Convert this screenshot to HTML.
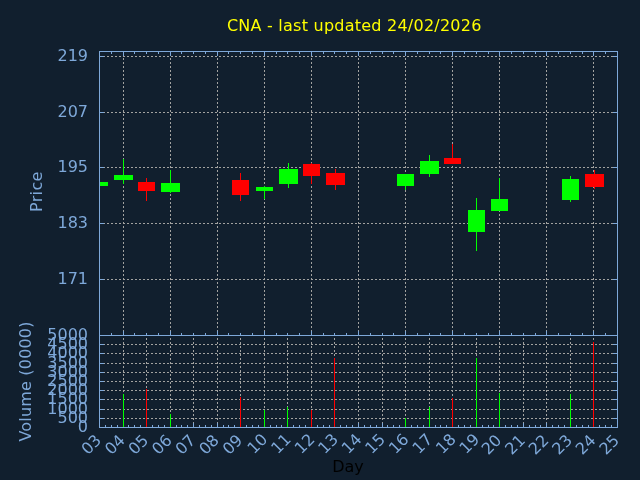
<!DOCTYPE html>
<html lang="en"><head><meta charset="utf-8"><title>CNA - last updated 24/02/2026</title>
<style>
html,body{margin:0;padding:0;background:#111f2e;overflow:hidden}
svg{display:block;will-change:transform}
text{font-family:"DejaVu Sans","Liberation Sans",sans-serif;font-size:16px}
.ax{fill:#7ea8d9}
</style></head><body>
<svg width="640" height="480" viewBox="0 0 640 480">
<rect x="0" y="0" width="640" height="480" fill="#111f2e"/>
<g shape-rendering="crispEdges">
<line x1="104" y1="56.5" x2="613" y2="56.5" stroke="#a2a2a0" stroke-width="1" stroke-dasharray="2 2" stroke-dashoffset="1"/>
<line x1="104" y1="112.5" x2="613" y2="112.5" stroke="#a2a2a0" stroke-width="1" stroke-dasharray="2 2" stroke-dashoffset="1"/>
<line x1="104" y1="167.5" x2="613" y2="167.5" stroke="#a2a2a0" stroke-width="1" stroke-dasharray="2 2" stroke-dashoffset="1"/>
<line x1="104" y1="223.5" x2="613" y2="223.5" stroke="#a2a2a0" stroke-width="1" stroke-dasharray="2 2" stroke-dashoffset="1"/>
<line x1="104" y1="279.5" x2="613" y2="279.5" stroke="#a2a2a0" stroke-width="1" stroke-dasharray="2 2" stroke-dashoffset="1"/>
<line x1="123.5" y1="52" x2="123.5" y2="335" stroke="#a2a2a0" stroke-width="1" stroke-dasharray="2 2" stroke-dashoffset="2"/>
<line x1="170.5" y1="52" x2="170.5" y2="335" stroke="#a2a2a0" stroke-width="1" stroke-dasharray="2 2" stroke-dashoffset="2"/>
<line x1="217.5" y1="52" x2="217.5" y2="335" stroke="#a2a2a0" stroke-width="1" stroke-dasharray="2 2" stroke-dashoffset="2"/>
<line x1="264.5" y1="52" x2="264.5" y2="335" stroke="#a2a2a0" stroke-width="1" stroke-dasharray="2 2" stroke-dashoffset="2"/>
<line x1="311.5" y1="52" x2="311.5" y2="335" stroke="#a2a2a0" stroke-width="1" stroke-dasharray="2 2" stroke-dashoffset="2"/>
<line x1="358.5" y1="52" x2="358.5" y2="335" stroke="#a2a2a0" stroke-width="1" stroke-dasharray="2 2" stroke-dashoffset="2"/>
<line x1="405.5" y1="52" x2="405.5" y2="335" stroke="#a2a2a0" stroke-width="1" stroke-dasharray="2 2" stroke-dashoffset="2"/>
<line x1="452.5" y1="52" x2="452.5" y2="335" stroke="#a2a2a0" stroke-width="1" stroke-dasharray="2 2" stroke-dashoffset="2"/>
<line x1="499.5" y1="52" x2="499.5" y2="335" stroke="#a2a2a0" stroke-width="1" stroke-dasharray="2 2" stroke-dashoffset="2"/>
<line x1="546.5" y1="52" x2="546.5" y2="335" stroke="#a2a2a0" stroke-width="1" stroke-dasharray="2 2" stroke-dashoffset="2"/>
<line x1="593.5" y1="52" x2="593.5" y2="335" stroke="#a2a2a0" stroke-width="1" stroke-dasharray="2 2" stroke-dashoffset="2"/>
<line x1="104" y1="418.5" x2="613" y2="418.5" stroke="#a2a2a0" stroke-width="1" stroke-dasharray="2 2" stroke-dashoffset="1"/>
<line x1="104" y1="409.5" x2="613" y2="409.5" stroke="#a2a2a0" stroke-width="1" stroke-dasharray="2 2" stroke-dashoffset="1"/>
<line x1="104" y1="399.5" x2="613" y2="399.5" stroke="#a2a2a0" stroke-width="1" stroke-dasharray="2 2" stroke-dashoffset="1"/>
<line x1="104" y1="390.5" x2="613" y2="390.5" stroke="#a2a2a0" stroke-width="1" stroke-dasharray="2 2" stroke-dashoffset="1"/>
<line x1="104" y1="381.5" x2="613" y2="381.5" stroke="#a2a2a0" stroke-width="1" stroke-dasharray="2 2" stroke-dashoffset="1"/>
<line x1="104" y1="372.5" x2="613" y2="372.5" stroke="#a2a2a0" stroke-width="1" stroke-dasharray="2 2" stroke-dashoffset="1"/>
<line x1="104" y1="363.5" x2="613" y2="363.5" stroke="#a2a2a0" stroke-width="1" stroke-dasharray="2 2" stroke-dashoffset="1"/>
<line x1="104" y1="353.5" x2="613" y2="353.5" stroke="#a2a2a0" stroke-width="1" stroke-dasharray="2 2" stroke-dashoffset="1"/>
<line x1="104" y1="344.5" x2="613" y2="344.5" stroke="#a2a2a0" stroke-width="1" stroke-dasharray="2 2" stroke-dashoffset="1"/>
<line x1="123.5" y1="336" x2="123.5" y2="427" stroke="#a2a2a0" stroke-width="1" stroke-dasharray="2 2" stroke-dashoffset="2"/>
<line x1="146.5" y1="336" x2="146.5" y2="427" stroke="#a2a2a0" stroke-width="1" stroke-dasharray="2 2" stroke-dashoffset="2"/>
<line x1="170.5" y1="336" x2="170.5" y2="427" stroke="#a2a2a0" stroke-width="1" stroke-dasharray="2 2" stroke-dashoffset="2"/>
<line x1="193.5" y1="336" x2="193.5" y2="427" stroke="#a2a2a0" stroke-width="1" stroke-dasharray="2 2" stroke-dashoffset="2"/>
<line x1="217.5" y1="336" x2="217.5" y2="427" stroke="#a2a2a0" stroke-width="1" stroke-dasharray="2 2" stroke-dashoffset="2"/>
<line x1="240.5" y1="336" x2="240.5" y2="427" stroke="#a2a2a0" stroke-width="1" stroke-dasharray="2 2" stroke-dashoffset="2"/>
<line x1="264.5" y1="336" x2="264.5" y2="427" stroke="#a2a2a0" stroke-width="1" stroke-dasharray="2 2" stroke-dashoffset="2"/>
<line x1="287.5" y1="336" x2="287.5" y2="427" stroke="#a2a2a0" stroke-width="1" stroke-dasharray="2 2" stroke-dashoffset="2"/>
<line x1="311.5" y1="336" x2="311.5" y2="427" stroke="#a2a2a0" stroke-width="1" stroke-dasharray="2 2" stroke-dashoffset="2"/>
<line x1="334.5" y1="336" x2="334.5" y2="427" stroke="#a2a2a0" stroke-width="1" stroke-dasharray="2 2" stroke-dashoffset="2"/>
<line x1="358.5" y1="336" x2="358.5" y2="427" stroke="#a2a2a0" stroke-width="1" stroke-dasharray="2 2" stroke-dashoffset="2"/>
<line x1="382.5" y1="336" x2="382.5" y2="427" stroke="#a2a2a0" stroke-width="1" stroke-dasharray="2 2" stroke-dashoffset="2"/>
<line x1="405.5" y1="336" x2="405.5" y2="427" stroke="#a2a2a0" stroke-width="1" stroke-dasharray="2 2" stroke-dashoffset="2"/>
<line x1="429.5" y1="336" x2="429.5" y2="427" stroke="#a2a2a0" stroke-width="1" stroke-dasharray="2 2" stroke-dashoffset="2"/>
<line x1="452.5" y1="336" x2="452.5" y2="427" stroke="#a2a2a0" stroke-width="1" stroke-dasharray="2 2" stroke-dashoffset="2"/>
<line x1="476.5" y1="336" x2="476.5" y2="427" stroke="#a2a2a0" stroke-width="1" stroke-dasharray="2 2" stroke-dashoffset="2"/>
<line x1="499.5" y1="336" x2="499.5" y2="427" stroke="#a2a2a0" stroke-width="1" stroke-dasharray="2 2" stroke-dashoffset="2"/>
<line x1="523.5" y1="336" x2="523.5" y2="427" stroke="#a2a2a0" stroke-width="1" stroke-dasharray="2 2" stroke-dashoffset="2"/>
<line x1="546.5" y1="336" x2="546.5" y2="427" stroke="#a2a2a0" stroke-width="1" stroke-dasharray="2 2" stroke-dashoffset="2"/>
<line x1="570.5" y1="336" x2="570.5" y2="427" stroke="#a2a2a0" stroke-width="1" stroke-dasharray="2 2" stroke-dashoffset="2"/>
<line x1="593.5" y1="336" x2="593.5" y2="427" stroke="#a2a2a0" stroke-width="1" stroke-dasharray="2 2" stroke-dashoffset="2"/>
<rect x="100" y="182" width="8" height="4" fill="#00ff00"/>
<line x1="123.5" y1="159" x2="123.5" y2="184" stroke="#00ff00" stroke-width="1"/>
<rect x="114" y="175" width="19" height="5" fill="#00ff00"/>
<line x1="146.5" y1="178" x2="146.5" y2="201" stroke="#ff0000" stroke-width="1"/>
<rect x="138" y="182" width="17" height="9" fill="#ff0000"/>
<line x1="170.5" y1="170" x2="170.5" y2="193" stroke="#00ff00" stroke-width="1"/>
<rect x="161" y="183" width="19" height="9" fill="#00ff00"/>
<line x1="240.5" y1="173" x2="240.5" y2="201" stroke="#ff0000" stroke-width="1"/>
<rect x="232" y="180" width="17" height="15" fill="#ff0000"/>
<line x1="264.5" y1="186" x2="264.5" y2="199" stroke="#00ff00" stroke-width="1"/>
<rect x="256" y="187" width="17" height="4" fill="#00ff00"/>
<line x1="288.5" y1="163" x2="288.5" y2="188" stroke="#00ff00" stroke-width="1"/>
<rect x="279" y="169" width="19" height="15" fill="#00ff00"/>
<line x1="311.5" y1="163" x2="311.5" y2="184" stroke="#ff0000" stroke-width="1"/>
<rect x="303" y="164" width="17" height="12" fill="#ff0000"/>
<line x1="335.5" y1="169" x2="335.5" y2="190" stroke="#ff0000" stroke-width="1"/>
<rect x="326" y="173" width="19" height="12" fill="#ff0000"/>
<line x1="405.5" y1="174" x2="405.5" y2="190" stroke="#00ff00" stroke-width="1"/>
<rect x="397" y="174" width="17" height="12" fill="#00ff00"/>
<line x1="429.5" y1="155" x2="429.5" y2="177" stroke="#00ff00" stroke-width="1"/>
<rect x="420" y="161" width="19" height="13" fill="#00ff00"/>
<line x1="452.5" y1="144" x2="452.5" y2="164" stroke="#ff0000" stroke-width="1"/>
<rect x="444" y="158" width="17" height="6" fill="#ff0000"/>
<line x1="476.5" y1="198" x2="476.5" y2="251" stroke="#00ff00" stroke-width="1"/>
<rect x="468" y="210" width="17" height="22" fill="#00ff00"/>
<line x1="499.5" y1="178" x2="499.5" y2="211" stroke="#00ff00" stroke-width="1"/>
<rect x="491" y="199" width="17" height="12" fill="#00ff00"/>
<line x1="570.5" y1="176" x2="570.5" y2="202" stroke="#00ff00" stroke-width="1"/>
<rect x="562" y="179" width="17" height="21" fill="#00ff00"/>
<line x1="594.5" y1="170" x2="594.5" y2="189" stroke="#ff0000" stroke-width="1"/>
<rect x="585" y="174" width="19" height="13" fill="#ff0000"/>
<line x1="100" y1="56.5" x2="104" y2="56.5" stroke="#7ea8d9" stroke-width="1"/>
<line x1="613" y1="56.5" x2="617" y2="56.5" stroke="#7ea8d9" stroke-width="1"/>
<line x1="100" y1="112.5" x2="104" y2="112.5" stroke="#7ea8d9" stroke-width="1"/>
<line x1="613" y1="112.5" x2="617" y2="112.5" stroke="#7ea8d9" stroke-width="1"/>
<line x1="100" y1="167.5" x2="104" y2="167.5" stroke="#7ea8d9" stroke-width="1"/>
<line x1="613" y1="167.5" x2="617" y2="167.5" stroke="#7ea8d9" stroke-width="1"/>
<line x1="100" y1="223.5" x2="104" y2="223.5" stroke="#7ea8d9" stroke-width="1"/>
<line x1="613" y1="223.5" x2="617" y2="223.5" stroke="#7ea8d9" stroke-width="1"/>
<line x1="100" y1="279.5" x2="104" y2="279.5" stroke="#7ea8d9" stroke-width="1"/>
<line x1="613" y1="279.5" x2="617" y2="279.5" stroke="#7ea8d9" stroke-width="1"/>
<line x1="100" y1="418.5" x2="104" y2="418.5" stroke="#7ea8d9" stroke-width="1"/>
<line x1="613" y1="418.5" x2="617" y2="418.5" stroke="#7ea8d9" stroke-width="1"/>
<line x1="100" y1="409.5" x2="104" y2="409.5" stroke="#7ea8d9" stroke-width="1"/>
<line x1="613" y1="409.5" x2="617" y2="409.5" stroke="#7ea8d9" stroke-width="1"/>
<line x1="100" y1="399.5" x2="104" y2="399.5" stroke="#7ea8d9" stroke-width="1"/>
<line x1="613" y1="399.5" x2="617" y2="399.5" stroke="#7ea8d9" stroke-width="1"/>
<line x1="100" y1="390.5" x2="104" y2="390.5" stroke="#7ea8d9" stroke-width="1"/>
<line x1="613" y1="390.5" x2="617" y2="390.5" stroke="#7ea8d9" stroke-width="1"/>
<line x1="100" y1="381.5" x2="104" y2="381.5" stroke="#7ea8d9" stroke-width="1"/>
<line x1="613" y1="381.5" x2="617" y2="381.5" stroke="#7ea8d9" stroke-width="1"/>
<line x1="100" y1="372.5" x2="104" y2="372.5" stroke="#7ea8d9" stroke-width="1"/>
<line x1="613" y1="372.5" x2="617" y2="372.5" stroke="#7ea8d9" stroke-width="1"/>
<line x1="100" y1="363.5" x2="104" y2="363.5" stroke="#7ea8d9" stroke-width="1"/>
<line x1="613" y1="363.5" x2="617" y2="363.5" stroke="#7ea8d9" stroke-width="1"/>
<line x1="100" y1="353.5" x2="104" y2="353.5" stroke="#7ea8d9" stroke-width="1"/>
<line x1="613" y1="353.5" x2="617" y2="353.5" stroke="#7ea8d9" stroke-width="1"/>
<line x1="100" y1="344.5" x2="104" y2="344.5" stroke="#7ea8d9" stroke-width="1"/>
<line x1="613" y1="344.5" x2="617" y2="344.5" stroke="#7ea8d9" stroke-width="1"/>
<line x1="111.5" y1="52" x2="111.5" y2="54" stroke="#7ea8d9" stroke-width="1"/>
<line x1="111.5" y1="333" x2="111.5" y2="335" stroke="#7ea8d9" stroke-width="1"/>
<line x1="123.5" y1="52" x2="123.5" y2="56" stroke="#7ea8d9" stroke-width="1"/>
<line x1="123.5" y1="331" x2="123.5" y2="335" stroke="#7ea8d9" stroke-width="1"/>
<line x1="134.5" y1="52" x2="134.5" y2="54" stroke="#7ea8d9" stroke-width="1"/>
<line x1="134.5" y1="333" x2="134.5" y2="335" stroke="#7ea8d9" stroke-width="1"/>
<line x1="146.5" y1="52" x2="146.5" y2="54" stroke="#7ea8d9" stroke-width="1"/>
<line x1="146.5" y1="333" x2="146.5" y2="335" stroke="#7ea8d9" stroke-width="1"/>
<line x1="158.5" y1="52" x2="158.5" y2="54" stroke="#7ea8d9" stroke-width="1"/>
<line x1="158.5" y1="333" x2="158.5" y2="335" stroke="#7ea8d9" stroke-width="1"/>
<line x1="170.5" y1="52" x2="170.5" y2="56" stroke="#7ea8d9" stroke-width="1"/>
<line x1="170.5" y1="331" x2="170.5" y2="335" stroke="#7ea8d9" stroke-width="1"/>
<line x1="181.5" y1="52" x2="181.5" y2="54" stroke="#7ea8d9" stroke-width="1"/>
<line x1="181.5" y1="333" x2="181.5" y2="335" stroke="#7ea8d9" stroke-width="1"/>
<line x1="193.5" y1="52" x2="193.5" y2="54" stroke="#7ea8d9" stroke-width="1"/>
<line x1="193.5" y1="333" x2="193.5" y2="335" stroke="#7ea8d9" stroke-width="1"/>
<line x1="205.5" y1="52" x2="205.5" y2="54" stroke="#7ea8d9" stroke-width="1"/>
<line x1="205.5" y1="333" x2="205.5" y2="335" stroke="#7ea8d9" stroke-width="1"/>
<line x1="217.5" y1="52" x2="217.5" y2="56" stroke="#7ea8d9" stroke-width="1"/>
<line x1="217.5" y1="331" x2="217.5" y2="335" stroke="#7ea8d9" stroke-width="1"/>
<line x1="228.5" y1="52" x2="228.5" y2="54" stroke="#7ea8d9" stroke-width="1"/>
<line x1="228.5" y1="333" x2="228.5" y2="335" stroke="#7ea8d9" stroke-width="1"/>
<line x1="240.5" y1="52" x2="240.5" y2="54" stroke="#7ea8d9" stroke-width="1"/>
<line x1="240.5" y1="333" x2="240.5" y2="335" stroke="#7ea8d9" stroke-width="1"/>
<line x1="252.5" y1="52" x2="252.5" y2="54" stroke="#7ea8d9" stroke-width="1"/>
<line x1="252.5" y1="333" x2="252.5" y2="335" stroke="#7ea8d9" stroke-width="1"/>
<line x1="264.5" y1="52" x2="264.5" y2="56" stroke="#7ea8d9" stroke-width="1"/>
<line x1="264.5" y1="331" x2="264.5" y2="335" stroke="#7ea8d9" stroke-width="1"/>
<line x1="276.5" y1="52" x2="276.5" y2="54" stroke="#7ea8d9" stroke-width="1"/>
<line x1="276.5" y1="333" x2="276.5" y2="335" stroke="#7ea8d9" stroke-width="1"/>
<line x1="287.5" y1="52" x2="287.5" y2="54" stroke="#7ea8d9" stroke-width="1"/>
<line x1="287.5" y1="333" x2="287.5" y2="335" stroke="#7ea8d9" stroke-width="1"/>
<line x1="299.5" y1="52" x2="299.5" y2="54" stroke="#7ea8d9" stroke-width="1"/>
<line x1="299.5" y1="333" x2="299.5" y2="335" stroke="#7ea8d9" stroke-width="1"/>
<line x1="311.5" y1="52" x2="311.5" y2="56" stroke="#7ea8d9" stroke-width="1"/>
<line x1="311.5" y1="331" x2="311.5" y2="335" stroke="#7ea8d9" stroke-width="1"/>
<line x1="323.5" y1="52" x2="323.5" y2="54" stroke="#7ea8d9" stroke-width="1"/>
<line x1="323.5" y1="333" x2="323.5" y2="335" stroke="#7ea8d9" stroke-width="1"/>
<line x1="334.5" y1="52" x2="334.5" y2="54" stroke="#7ea8d9" stroke-width="1"/>
<line x1="334.5" y1="333" x2="334.5" y2="335" stroke="#7ea8d9" stroke-width="1"/>
<line x1="346.5" y1="52" x2="346.5" y2="54" stroke="#7ea8d9" stroke-width="1"/>
<line x1="346.5" y1="333" x2="346.5" y2="335" stroke="#7ea8d9" stroke-width="1"/>
<line x1="358.5" y1="52" x2="358.5" y2="56" stroke="#7ea8d9" stroke-width="1"/>
<line x1="358.5" y1="331" x2="358.5" y2="335" stroke="#7ea8d9" stroke-width="1"/>
<line x1="370.5" y1="52" x2="370.5" y2="54" stroke="#7ea8d9" stroke-width="1"/>
<line x1="370.5" y1="333" x2="370.5" y2="335" stroke="#7ea8d9" stroke-width="1"/>
<line x1="382.5" y1="52" x2="382.5" y2="54" stroke="#7ea8d9" stroke-width="1"/>
<line x1="382.5" y1="333" x2="382.5" y2="335" stroke="#7ea8d9" stroke-width="1"/>
<line x1="393.5" y1="52" x2="393.5" y2="54" stroke="#7ea8d9" stroke-width="1"/>
<line x1="393.5" y1="333" x2="393.5" y2="335" stroke="#7ea8d9" stroke-width="1"/>
<line x1="405.5" y1="52" x2="405.5" y2="56" stroke="#7ea8d9" stroke-width="1"/>
<line x1="405.5" y1="331" x2="405.5" y2="335" stroke="#7ea8d9" stroke-width="1"/>
<line x1="417.5" y1="52" x2="417.5" y2="54" stroke="#7ea8d9" stroke-width="1"/>
<line x1="417.5" y1="333" x2="417.5" y2="335" stroke="#7ea8d9" stroke-width="1"/>
<line x1="429.5" y1="52" x2="429.5" y2="54" stroke="#7ea8d9" stroke-width="1"/>
<line x1="429.5" y1="333" x2="429.5" y2="335" stroke="#7ea8d9" stroke-width="1"/>
<line x1="440.5" y1="52" x2="440.5" y2="54" stroke="#7ea8d9" stroke-width="1"/>
<line x1="440.5" y1="333" x2="440.5" y2="335" stroke="#7ea8d9" stroke-width="1"/>
<line x1="452.5" y1="52" x2="452.5" y2="56" stroke="#7ea8d9" stroke-width="1"/>
<line x1="452.5" y1="331" x2="452.5" y2="335" stroke="#7ea8d9" stroke-width="1"/>
<line x1="464.5" y1="52" x2="464.5" y2="54" stroke="#7ea8d9" stroke-width="1"/>
<line x1="464.5" y1="333" x2="464.5" y2="335" stroke="#7ea8d9" stroke-width="1"/>
<line x1="476.5" y1="52" x2="476.5" y2="54" stroke="#7ea8d9" stroke-width="1"/>
<line x1="476.5" y1="333" x2="476.5" y2="335" stroke="#7ea8d9" stroke-width="1"/>
<line x1="488.5" y1="52" x2="488.5" y2="54" stroke="#7ea8d9" stroke-width="1"/>
<line x1="488.5" y1="333" x2="488.5" y2="335" stroke="#7ea8d9" stroke-width="1"/>
<line x1="499.5" y1="52" x2="499.5" y2="56" stroke="#7ea8d9" stroke-width="1"/>
<line x1="499.5" y1="331" x2="499.5" y2="335" stroke="#7ea8d9" stroke-width="1"/>
<line x1="511.5" y1="52" x2="511.5" y2="54" stroke="#7ea8d9" stroke-width="1"/>
<line x1="511.5" y1="333" x2="511.5" y2="335" stroke="#7ea8d9" stroke-width="1"/>
<line x1="523.5" y1="52" x2="523.5" y2="54" stroke="#7ea8d9" stroke-width="1"/>
<line x1="523.5" y1="333" x2="523.5" y2="335" stroke="#7ea8d9" stroke-width="1"/>
<line x1="535.5" y1="52" x2="535.5" y2="54" stroke="#7ea8d9" stroke-width="1"/>
<line x1="535.5" y1="333" x2="535.5" y2="335" stroke="#7ea8d9" stroke-width="1"/>
<line x1="546.5" y1="52" x2="546.5" y2="56" stroke="#7ea8d9" stroke-width="1"/>
<line x1="546.5" y1="331" x2="546.5" y2="335" stroke="#7ea8d9" stroke-width="1"/>
<line x1="558.5" y1="52" x2="558.5" y2="54" stroke="#7ea8d9" stroke-width="1"/>
<line x1="558.5" y1="333" x2="558.5" y2="335" stroke="#7ea8d9" stroke-width="1"/>
<line x1="570.5" y1="52" x2="570.5" y2="54" stroke="#7ea8d9" stroke-width="1"/>
<line x1="570.5" y1="333" x2="570.5" y2="335" stroke="#7ea8d9" stroke-width="1"/>
<line x1="582.5" y1="52" x2="582.5" y2="54" stroke="#7ea8d9" stroke-width="1"/>
<line x1="582.5" y1="333" x2="582.5" y2="335" stroke="#7ea8d9" stroke-width="1"/>
<line x1="593.5" y1="52" x2="593.5" y2="56" stroke="#7ea8d9" stroke-width="1"/>
<line x1="593.5" y1="331" x2="593.5" y2="335" stroke="#7ea8d9" stroke-width="1"/>
<line x1="605.5" y1="52" x2="605.5" y2="54" stroke="#7ea8d9" stroke-width="1"/>
<line x1="605.5" y1="333" x2="605.5" y2="335" stroke="#7ea8d9" stroke-width="1"/>
<line x1="105.5" y1="425" x2="105.5" y2="427" stroke="#7ea8d9" stroke-width="1"/>
<line x1="111.5" y1="425" x2="111.5" y2="427" stroke="#7ea8d9" stroke-width="1"/>
<line x1="117.5" y1="425" x2="117.5" y2="427" stroke="#7ea8d9" stroke-width="1"/>
<line x1="123.5" y1="423" x2="123.5" y2="427" stroke="#7ea8d9" stroke-width="1"/>
<line x1="128.5" y1="425" x2="128.5" y2="427" stroke="#7ea8d9" stroke-width="1"/>
<line x1="134.5" y1="425" x2="134.5" y2="427" stroke="#7ea8d9" stroke-width="1"/>
<line x1="140.5" y1="425" x2="140.5" y2="427" stroke="#7ea8d9" stroke-width="1"/>
<line x1="146.5" y1="423" x2="146.5" y2="427" stroke="#7ea8d9" stroke-width="1"/>
<line x1="152.5" y1="425" x2="152.5" y2="427" stroke="#7ea8d9" stroke-width="1"/>
<line x1="158.5" y1="425" x2="158.5" y2="427" stroke="#7ea8d9" stroke-width="1"/>
<line x1="164.5" y1="425" x2="164.5" y2="427" stroke="#7ea8d9" stroke-width="1"/>
<line x1="170.5" y1="423" x2="170.5" y2="427" stroke="#7ea8d9" stroke-width="1"/>
<line x1="176.5" y1="425" x2="176.5" y2="427" stroke="#7ea8d9" stroke-width="1"/>
<line x1="181.5" y1="425" x2="181.5" y2="427" stroke="#7ea8d9" stroke-width="1"/>
<line x1="187.5" y1="425" x2="187.5" y2="427" stroke="#7ea8d9" stroke-width="1"/>
<line x1="193.5" y1="423" x2="193.5" y2="427" stroke="#7ea8d9" stroke-width="1"/>
<line x1="199.5" y1="425" x2="199.5" y2="427" stroke="#7ea8d9" stroke-width="1"/>
<line x1="205.5" y1="425" x2="205.5" y2="427" stroke="#7ea8d9" stroke-width="1"/>
<line x1="211.5" y1="425" x2="211.5" y2="427" stroke="#7ea8d9" stroke-width="1"/>
<line x1="217.5" y1="423" x2="217.5" y2="427" stroke="#7ea8d9" stroke-width="1"/>
<line x1="223.5" y1="425" x2="223.5" y2="427" stroke="#7ea8d9" stroke-width="1"/>
<line x1="228.5" y1="425" x2="228.5" y2="427" stroke="#7ea8d9" stroke-width="1"/>
<line x1="234.5" y1="425" x2="234.5" y2="427" stroke="#7ea8d9" stroke-width="1"/>
<line x1="240.5" y1="423" x2="240.5" y2="427" stroke="#7ea8d9" stroke-width="1"/>
<line x1="246.5" y1="425" x2="246.5" y2="427" stroke="#7ea8d9" stroke-width="1"/>
<line x1="252.5" y1="425" x2="252.5" y2="427" stroke="#7ea8d9" stroke-width="1"/>
<line x1="258.5" y1="425" x2="258.5" y2="427" stroke="#7ea8d9" stroke-width="1"/>
<line x1="264.5" y1="423" x2="264.5" y2="427" stroke="#7ea8d9" stroke-width="1"/>
<line x1="270.5" y1="425" x2="270.5" y2="427" stroke="#7ea8d9" stroke-width="1"/>
<line x1="276.5" y1="425" x2="276.5" y2="427" stroke="#7ea8d9" stroke-width="1"/>
<line x1="281.5" y1="425" x2="281.5" y2="427" stroke="#7ea8d9" stroke-width="1"/>
<line x1="287.5" y1="423" x2="287.5" y2="427" stroke="#7ea8d9" stroke-width="1"/>
<line x1="293.5" y1="425" x2="293.5" y2="427" stroke="#7ea8d9" stroke-width="1"/>
<line x1="299.5" y1="425" x2="299.5" y2="427" stroke="#7ea8d9" stroke-width="1"/>
<line x1="305.5" y1="425" x2="305.5" y2="427" stroke="#7ea8d9" stroke-width="1"/>
<line x1="311.5" y1="423" x2="311.5" y2="427" stroke="#7ea8d9" stroke-width="1"/>
<line x1="317.5" y1="425" x2="317.5" y2="427" stroke="#7ea8d9" stroke-width="1"/>
<line x1="323.5" y1="425" x2="323.5" y2="427" stroke="#7ea8d9" stroke-width="1"/>
<line x1="329.5" y1="425" x2="329.5" y2="427" stroke="#7ea8d9" stroke-width="1"/>
<line x1="334.5" y1="423" x2="334.5" y2="427" stroke="#7ea8d9" stroke-width="1"/>
<line x1="340.5" y1="425" x2="340.5" y2="427" stroke="#7ea8d9" stroke-width="1"/>
<line x1="346.5" y1="425" x2="346.5" y2="427" stroke="#7ea8d9" stroke-width="1"/>
<line x1="352.5" y1="425" x2="352.5" y2="427" stroke="#7ea8d9" stroke-width="1"/>
<line x1="358.5" y1="423" x2="358.5" y2="427" stroke="#7ea8d9" stroke-width="1"/>
<line x1="364.5" y1="425" x2="364.5" y2="427" stroke="#7ea8d9" stroke-width="1"/>
<line x1="370.5" y1="425" x2="370.5" y2="427" stroke="#7ea8d9" stroke-width="1"/>
<line x1="376.5" y1="425" x2="376.5" y2="427" stroke="#7ea8d9" stroke-width="1"/>
<line x1="382.5" y1="423" x2="382.5" y2="427" stroke="#7ea8d9" stroke-width="1"/>
<line x1="387.5" y1="425" x2="387.5" y2="427" stroke="#7ea8d9" stroke-width="1"/>
<line x1="393.5" y1="425" x2="393.5" y2="427" stroke="#7ea8d9" stroke-width="1"/>
<line x1="399.5" y1="425" x2="399.5" y2="427" stroke="#7ea8d9" stroke-width="1"/>
<line x1="405.5" y1="423" x2="405.5" y2="427" stroke="#7ea8d9" stroke-width="1"/>
<line x1="411.5" y1="425" x2="411.5" y2="427" stroke="#7ea8d9" stroke-width="1"/>
<line x1="417.5" y1="425" x2="417.5" y2="427" stroke="#7ea8d9" stroke-width="1"/>
<line x1="423.5" y1="425" x2="423.5" y2="427" stroke="#7ea8d9" stroke-width="1"/>
<line x1="429.5" y1="423" x2="429.5" y2="427" stroke="#7ea8d9" stroke-width="1"/>
<line x1="435.5" y1="425" x2="435.5" y2="427" stroke="#7ea8d9" stroke-width="1"/>
<line x1="440.5" y1="425" x2="440.5" y2="427" stroke="#7ea8d9" stroke-width="1"/>
<line x1="446.5" y1="425" x2="446.5" y2="427" stroke="#7ea8d9" stroke-width="1"/>
<line x1="452.5" y1="423" x2="452.5" y2="427" stroke="#7ea8d9" stroke-width="1"/>
<line x1="458.5" y1="425" x2="458.5" y2="427" stroke="#7ea8d9" stroke-width="1"/>
<line x1="464.5" y1="425" x2="464.5" y2="427" stroke="#7ea8d9" stroke-width="1"/>
<line x1="470.5" y1="425" x2="470.5" y2="427" stroke="#7ea8d9" stroke-width="1"/>
<line x1="476.5" y1="423" x2="476.5" y2="427" stroke="#7ea8d9" stroke-width="1"/>
<line x1="482.5" y1="425" x2="482.5" y2="427" stroke="#7ea8d9" stroke-width="1"/>
<line x1="488.5" y1="425" x2="488.5" y2="427" stroke="#7ea8d9" stroke-width="1"/>
<line x1="493.5" y1="425" x2="493.5" y2="427" stroke="#7ea8d9" stroke-width="1"/>
<line x1="499.5" y1="423" x2="499.5" y2="427" stroke="#7ea8d9" stroke-width="1"/>
<line x1="505.5" y1="425" x2="505.5" y2="427" stroke="#7ea8d9" stroke-width="1"/>
<line x1="511.5" y1="425" x2="511.5" y2="427" stroke="#7ea8d9" stroke-width="1"/>
<line x1="517.5" y1="425" x2="517.5" y2="427" stroke="#7ea8d9" stroke-width="1"/>
<line x1="523.5" y1="423" x2="523.5" y2="427" stroke="#7ea8d9" stroke-width="1"/>
<line x1="529.5" y1="425" x2="529.5" y2="427" stroke="#7ea8d9" stroke-width="1"/>
<line x1="535.5" y1="425" x2="535.5" y2="427" stroke="#7ea8d9" stroke-width="1"/>
<line x1="540.5" y1="425" x2="540.5" y2="427" stroke="#7ea8d9" stroke-width="1"/>
<line x1="546.5" y1="423" x2="546.5" y2="427" stroke="#7ea8d9" stroke-width="1"/>
<line x1="552.5" y1="425" x2="552.5" y2="427" stroke="#7ea8d9" stroke-width="1"/>
<line x1="558.5" y1="425" x2="558.5" y2="427" stroke="#7ea8d9" stroke-width="1"/>
<line x1="564.5" y1="425" x2="564.5" y2="427" stroke="#7ea8d9" stroke-width="1"/>
<line x1="570.5" y1="423" x2="570.5" y2="427" stroke="#7ea8d9" stroke-width="1"/>
<line x1="576.5" y1="425" x2="576.5" y2="427" stroke="#7ea8d9" stroke-width="1"/>
<line x1="582.5" y1="425" x2="582.5" y2="427" stroke="#7ea8d9" stroke-width="1"/>
<line x1="588.5" y1="425" x2="588.5" y2="427" stroke="#7ea8d9" stroke-width="1"/>
<line x1="593.5" y1="423" x2="593.5" y2="427" stroke="#7ea8d9" stroke-width="1"/>
<line x1="599.5" y1="425" x2="599.5" y2="427" stroke="#7ea8d9" stroke-width="1"/>
<line x1="605.5" y1="425" x2="605.5" y2="427" stroke="#7ea8d9" stroke-width="1"/>
<line x1="611.5" y1="425" x2="611.5" y2="427" stroke="#7ea8d9" stroke-width="1"/>
<line x1="123.5" y1="394" x2="123.5" y2="427" stroke="#00ff00" stroke-width="1"/>
<line x1="146.5" y1="389" x2="146.5" y2="427" stroke="#ff0000" stroke-width="1"/>
<line x1="170.5" y1="414" x2="170.5" y2="427" stroke="#00ff00" stroke-width="1"/>
<line x1="240.5" y1="397" x2="240.5" y2="427" stroke="#ff0000" stroke-width="1"/>
<line x1="264.5" y1="410" x2="264.5" y2="427" stroke="#00ff00" stroke-width="1"/>
<line x1="287.5" y1="407" x2="287.5" y2="427" stroke="#00ff00" stroke-width="1"/>
<line x1="311.5" y1="410" x2="311.5" y2="427" stroke="#ff0000" stroke-width="1"/>
<line x1="334.5" y1="358" x2="334.5" y2="427" stroke="#ff0000" stroke-width="1"/>
<line x1="405.5" y1="418" x2="405.5" y2="427" stroke="#00ff00" stroke-width="1"/>
<line x1="429.5" y1="407" x2="429.5" y2="427" stroke="#00ff00" stroke-width="1"/>
<line x1="452.5" y1="398" x2="452.5" y2="427" stroke="#ff0000" stroke-width="1"/>
<line x1="476.5" y1="358" x2="476.5" y2="427" stroke="#00ff00" stroke-width="1"/>
<line x1="499.5" y1="393" x2="499.5" y2="427" stroke="#00ff00" stroke-width="1"/>
<line x1="570.5" y1="394" x2="570.5" y2="427" stroke="#00ff00" stroke-width="1"/>
<line x1="593.5" y1="342" x2="593.5" y2="427" stroke="#ff0000" stroke-width="1"/>
<line x1="99" y1="51.5" x2="618" y2="51.5" stroke="#7ea8d9" stroke-width="1"/>
<line x1="99" y1="335.5" x2="618" y2="335.5" stroke="#7ea8d9" stroke-width="1"/>
<line x1="99" y1="427.5" x2="618" y2="427.5" stroke="#7ea8d9" stroke-width="1"/>
<line x1="99.5" y1="51" x2="99.5" y2="428" stroke="#7ea8d9" stroke-width="1"/>
<line x1="617.5" y1="51" x2="617.5" y2="428" stroke="#7ea8d9" stroke-width="1"/>
</g>
<text x="226.9" y="30.5" textLength="254.5" lengthAdjust="spacing" fill="#ffff00">CNA - last updated 24/02/2026</text>
<text class="ax" x="88" y="60.9" text-anchor="end">219</text>
<text class="ax" x="88" y="116.9" text-anchor="end">207</text>
<text class="ax" x="88" y="171.9" text-anchor="end">195</text>
<text class="ax" x="88" y="227.9" text-anchor="end">183</text>
<text class="ax" x="88" y="283.9" text-anchor="end">171</text>
<text class="ax" x="88" y="431.9" text-anchor="end">0</text>
<text class="ax" x="88" y="422.7" text-anchor="end">500</text>
<text class="ax" x="88" y="413.5" text-anchor="end">1000</text>
<text class="ax" x="88" y="404.3" text-anchor="end">1500</text>
<text class="ax" x="88" y="395.1" text-anchor="end">2000</text>
<text class="ax" x="88" y="385.9" text-anchor="end">2500</text>
<text class="ax" x="88" y="376.7" text-anchor="end">3000</text>
<text class="ax" x="88" y="367.5" text-anchor="end">3500</text>
<text class="ax" x="88" y="358.3" text-anchor="end">4000</text>
<text class="ax" x="88" y="349.1" text-anchor="end">4500</text>
<text class="ax" x="88" y="339.9" text-anchor="end">5000</text>
<text class="ax" transform="translate(42.3,212) rotate(-90)" textLength="40.4" lengthAdjust="spacing">Price</text>
<text class="ax" transform="translate(31.2,441.5) rotate(-90)" textLength="120" lengthAdjust="spacing">Volume (0000)</text>
<text class="ax" transform="translate(102.3,441.2) rotate(-45)" text-anchor="end">03</text>
<text class="ax" transform="translate(125.845,441.2) rotate(-45)" text-anchor="end">04</text>
<text class="ax" transform="translate(149.391,441.2) rotate(-45)" text-anchor="end">05</text>
<text class="ax" transform="translate(172.936,441.2) rotate(-45)" text-anchor="end">06</text>
<text class="ax" transform="translate(196.482,441.2) rotate(-45)" text-anchor="end">07</text>
<text class="ax" transform="translate(220.027,441.2) rotate(-45)" text-anchor="end">08</text>
<text class="ax" transform="translate(243.573,441.2) rotate(-45)" text-anchor="end">09</text>
<text class="ax" transform="translate(268.518,440.3) rotate(-45)" text-anchor="end">10</text>
<text class="ax" transform="translate(292.064,440.3) rotate(-45)" text-anchor="end">11</text>
<text class="ax" transform="translate(315.609,440.3) rotate(-45)" text-anchor="end">12</text>
<text class="ax" transform="translate(339.155,440.3) rotate(-45)" text-anchor="end">13</text>
<text class="ax" transform="translate(362.7,440.3) rotate(-45)" text-anchor="end">14</text>
<text class="ax" transform="translate(386.245,440.3) rotate(-45)" text-anchor="end">15</text>
<text class="ax" transform="translate(409.791,440.3) rotate(-45)" text-anchor="end">16</text>
<text class="ax" transform="translate(433.336,440.3) rotate(-45)" text-anchor="end">17</text>
<text class="ax" transform="translate(456.882,440.3) rotate(-45)" text-anchor="end">18</text>
<text class="ax" transform="translate(480.427,440.3) rotate(-45)" text-anchor="end">19</text>
<text class="ax" transform="translate(502.573,441.2) rotate(-45)" text-anchor="end">20</text>
<text class="ax" transform="translate(526.118,441.2) rotate(-45)" text-anchor="end">21</text>
<text class="ax" transform="translate(549.664,441.2) rotate(-45)" text-anchor="end">22</text>
<text class="ax" transform="translate(573.209,441.2) rotate(-45)" text-anchor="end">23</text>
<text class="ax" transform="translate(596.755,441.2) rotate(-45)" text-anchor="end">24</text>
<text class="ax" transform="translate(620.3,441.2) rotate(-45)" text-anchor="end">25</text>
<text x="348" y="472" text-anchor="middle" fill="#000000">Day</text>
</svg></body></html>
